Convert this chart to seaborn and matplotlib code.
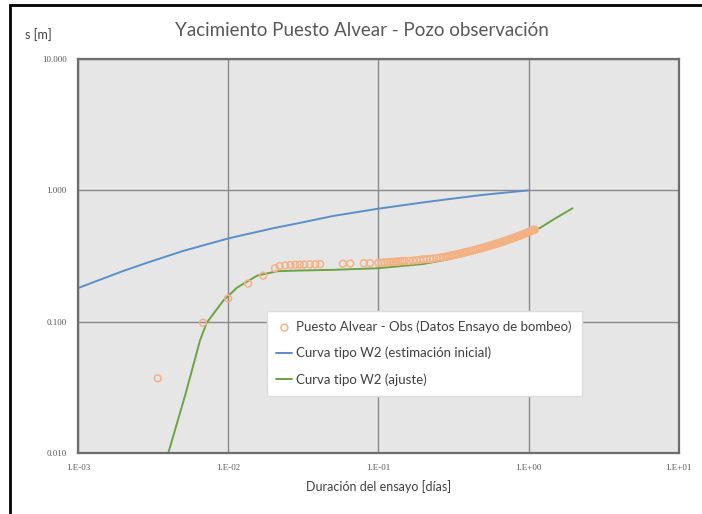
import matplotlib
matplotlib.use("Agg")
import matplotlib.pyplot as plt
import matplotlib.ticker as mticker
from matplotlib.patches import Rectangle
import seaborn as sns
import pandas as pd

obs_t = [0.0034, 0.0068, 0.0100, 0.0136, 0.0171, 0.0205,
         0.022, 0.024, 0.026, 0.028, 0.030, 0.032, 0.035, 0.038, 0.041,
         0.058, 0.065, 0.080, 0.088, 0.100, 0.105, 0.110, 0.115, 0.120, 0.125,
         0.130, 0.135, 0.140, 0.145, 0.150, 0.160, 0.170, 0.180, 0.190, 0.200,
         0.210, 0.220, 0.230, 0.245, 0.260, 0.270, 0.280, 0.290, 0.300, 0.310,
         0.320, 0.330, 0.340, 0.350, 0.360, 0.370, 0.380, 0.390, 0.400, 0.415,
         0.430, 0.445, 0.460, 0.475, 0.490, 0.505, 0.520, 0.535, 0.550, 0.565,
         0.580, 0.595, 0.610, 0.625, 0.640, 0.655, 0.670, 0.685, 0.700, 0.720,
         0.740, 0.760, 0.780, 0.800, 0.820, 0.840, 0.860, 0.880, 0.900, 0.920,
         0.940, 0.960, 0.980, 1.000, 1.020, 1.040, 1.060, 1.080, 1.100]
obs_s = [0.037, 0.098, 0.150, 0.195, 0.224, 0.255,
         0.265, 0.268, 0.270, 0.271, 0.272, 0.272, 0.273, 0.273, 0.274,
         0.276, 0.277, 0.278, 0.279, 0.280, 0.281, 0.282, 0.283, 0.284, 0.285,
         0.286, 0.287, 0.288, 0.289, 0.289, 0.290, 0.292, 0.294, 0.296, 0.298,
         0.299, 0.300, 0.302, 0.305, 0.308, 0.310, 0.312, 0.315, 0.318, 0.320,
         0.322, 0.325, 0.327, 0.330, 0.332, 0.335, 0.337, 0.340, 0.342, 0.346,
         0.350, 0.353, 0.357, 0.360, 0.364, 0.367, 0.371, 0.374, 0.378, 0.381,
         0.385, 0.388, 0.392, 0.395, 0.399, 0.402, 0.406, 0.409, 0.413, 0.418,
         0.422, 0.427, 0.431, 0.436, 0.440, 0.445, 0.449, 0.454, 0.458, 0.463,
         0.467, 0.472, 0.476, 0.481, 0.485, 0.490, 0.494, 0.499, 0.503]

# Curva tipo W2 (estimacion inicial)
ini_t = [0.001, 0.002, 0.003, 0.005, 0.01, 0.02, 0.03, 0.05, 0.1, 0.2, 0.3, 0.5, 1.0]
ini_s = [0.180, 0.243, 0.285, 0.345, 0.430, 0.515, 0.565, 0.638, 0.725, 0.810, 0.860, 0.925, 1.000]

# Curva tipo W2 (ajuste)
aju_t = [0.0040, 0.0052, 0.0065, 0.0072, 0.0093, 0.0115, 0.0156, 0.0212, 0.03,
         0.05, 0.1, 0.2, 0.3, 0.5, 0.7, 1.0, 1.2, 1.5, 1.96]
aju_s = [0.010, 0.028, 0.072, 0.098, 0.145, 0.182, 0.224, 0.242, 0.245,
         0.248, 0.255, 0.275, 0.300, 0.350, 0.400, 0.465, 0.520, 0.610, 0.730]

sns.set_style("white")
plt.rcParams['font.family'] = ['Lato', 'DejaVu Sans']

fig = plt.figure(figsize=(7.02, 5.14), dpi=100)
ax = fig.add_axes([0.111, 0.119, 0.856, 0.766])
ax.set_facecolor("#e6e6e6")

df_obs = pd.DataFrame({"t": obs_t, "s": obs_s})
df_ini = pd.DataFrame({"t": ini_t, "s": ini_s})
df_aju = pd.DataFrame({"t": aju_t, "s": aju_s})

sns.lineplot(data=df_ini, x="t", y="s", ax=ax, color="#5b8fc9", lw=1.4,
             label="Curva tipo W2 (estimación inicial)")
sns.lineplot(data=df_aju, x="t", y="s", ax=ax, color="#6aa445", lw=1.4,
             label="Curva tipo W2 (ajuste)")
sns.scatterplot(data=df_obs, x="t", y="s", ax=ax, marker="o", s=24,
                facecolors="none", edgecolor="#f4b183", linewidth=1.1,
                label="Puesto Alvear - Obs (Datos Ensayo de bombeo)", zorder=3)

ax.set_xscale("log")
ax.set_yscale("log")
ax.set_xlim(1e-3, 10)
ax.set_ylim(0.01, 10)
ax.xaxis.set_major_locator(mticker.LogLocator(base=10, numticks=10))
ax.yaxis.set_major_locator(mticker.LogLocator(base=10, numticks=10))
ax.xaxis.set_minor_locator(mticker.NullLocator())
ax.yaxis.set_minor_locator(mticker.NullLocator())
ax.xaxis.set_major_formatter(mticker.FuncFormatter(
    lambda v, p: ("%.0E" % v).replace("1E", "1.E")))
ax.yaxis.set_major_formatter(mticker.FuncFormatter(lambda v, p: "%.3f" % v))
ax.tick_params(axis="both", length=0, labelsize=6.5, labelcolor="#595959", pad=8,
               labelfontfamily="Liberation Serif")
ax.grid(True, which="major", color="#8a8a8a", lw=1.0)
for sp in ax.spines.values():
    sp.set_color("#6d6d6d")
    sp.set_linewidth(1.6)

ax.set_xlabel("Duración del ensayo [días]", fontsize=9, color="#404040", labelpad=6)
ax.set_ylabel("")
fig.text(0.035, 0.925, "s [m]", fontsize=9, color="#404040")
fig.text(0.516, 0.93, "Yacimiento Puesto Alvear - Pozo observación", fontsize=13.5,
         color="#595959", ha="center")

h, l = ax.get_legend_handles_labels()
order = [2, 0, 1]
leg = ax.legend([h[i] for i in order], [l[i] for i in order], loc="upper left",
                bbox_to_anchor=(0.303, 0.378), fontsize=9.5, frameon=True,
                fancybox=False, borderpad=0.75, labelspacing=1.05,
                handlelength=1.2, handletextpad=0.3)
leg.get_frame().set_facecolor("white")
leg.get_frame().set_edgecolor("#dddddd")
leg.get_frame().set_alpha(1)
for t in leg.get_texts():
    t.set_color("#404040")

# marco exterior
fig.patches.append(Rectangle((10 / 702, -0.1), 1.2, 1 - 5 / 514 + 0.1,
                             transform=fig.transFigure, fill=False,
                             edgecolor="black", lw=2))

fig.savefig("out.png", dpi=100)
